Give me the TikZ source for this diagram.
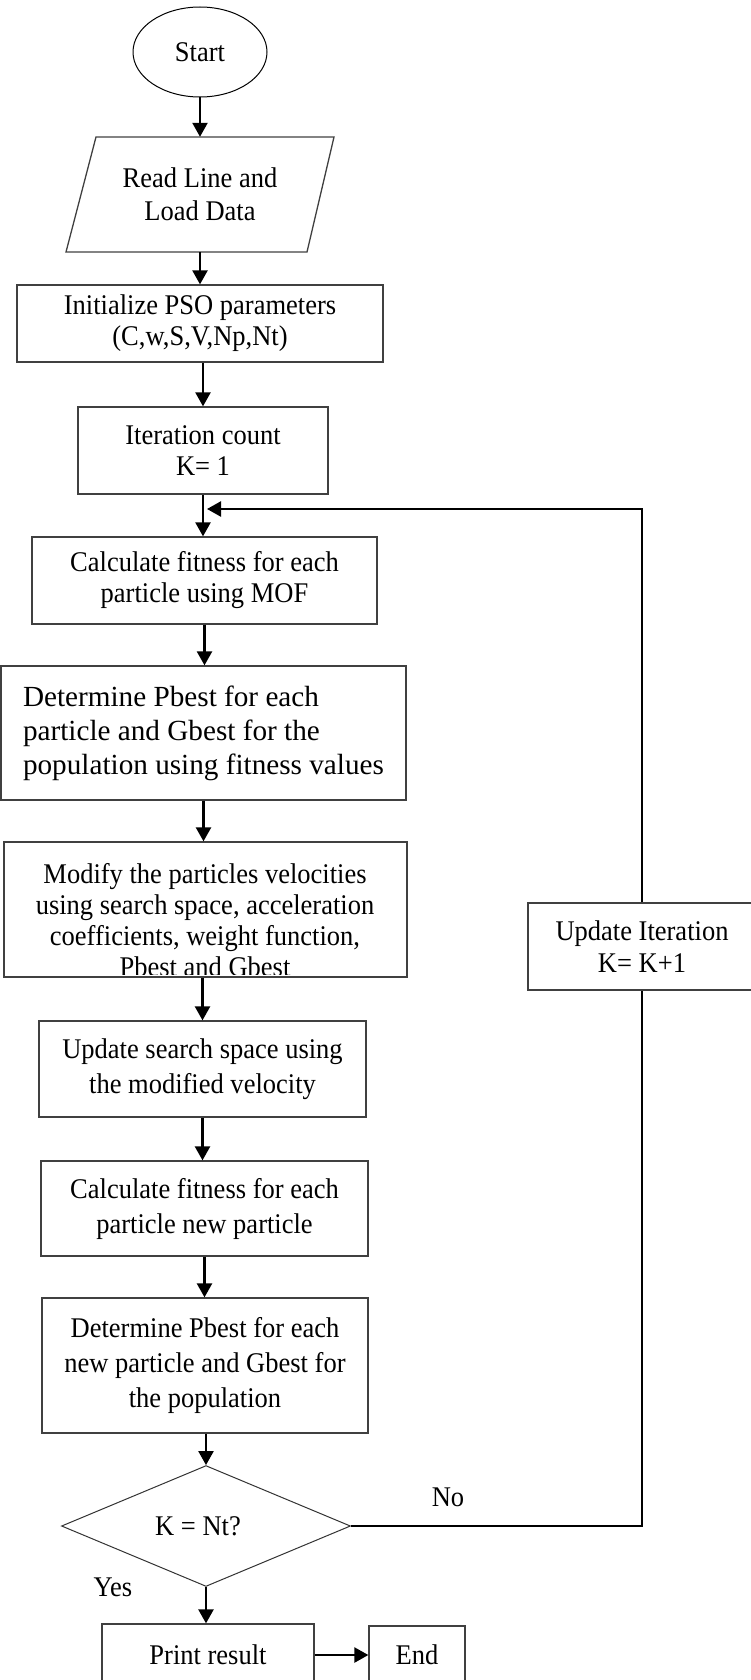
\documentclass[tikz,border=0pt]{standalone}
\usepackage{fontspec}
\setmainfont[FakeStretch=0.93]{Liberation Serif}
\newfontfamily\plainserif{Liberation Serif}
\usetikzlibrary{shapes.geometric,arrows.meta}

\begin{document}
\begin{tikzpicture}[x=1pt,y=-1pt,
  every node/.style={font=\fontsize{28.5}{31}\selectfont},
  boxline/.style={draw=black!75, line width=1.3pt},
  box/.style={boxline, fill=white, align=center, inner sep=0pt},
  wide/.style={font=\fontsize{28.5}{35}\selectfont},
  link/.style={line width=2.4pt, black},
  arr/.style={link, -{Triangle[width=15pt,length=14pt]}},
]
\useasboundingbox (0,0) rectangle (751,1680);

% terminals, input and process steps
\node[draw, line width=1pt, ellipse, minimum width=134pt, minimum height=90pt, inner sep=0pt] (start) at (200,52) {Start};

\draw[boxline] (96,137) -- (334,137) -- (307,252) -- (66,252) -- cycle;
\node[align=center, inner sep=0pt, minimum width=238pt, minimum height=115pt,
      font=\fontsize{28.5}{33}\selectfont] (read) at (200,194.5) {Read Line and\\Load Data};

\node[box, minimum width=366pt, minimum height=77pt] (init) at (200,323.5)
  {Initialize PSO parameters\\(C,w,S,V,Np,Nt)};
\node[box, minimum width=250pt, minimum height=87pt] (iter) at (203,450.5)
  {Iteration count\\K= 1};
\node[box, minimum width=345pt, minimum height=87pt] (calc1) at (204.5,580.5)
  {Calculate fitness for each\\particle using MOF};
\node[box, minimum width=405pt, minimum height=134pt, align=left,
      font=\plainserif\fontsize{29.2}{34}\selectfont] (det1) at (203.5,733)
  {Determine Pbest for each\\particle and Gbest for the\\population using fitness values};

\node[box, minimum width=403pt, minimum height=135pt] (modify) at (205.5,909.5) {};
\begin{scope}
  \clip (4,842) rectangle (407,974);
  \node[align=center, inner sep=0pt, font=\fontsize{28.5}{31}\selectfont] (modtext) at (205,919.75)
    {Modify the particles velocities\\using search space, acceleration\\coefficients, weight function,\\Pbest and Gbest};
\end{scope}

\node[box, minimum width=228pt, minimum height=87pt, font=\fontsize{28.5}{32}\selectfont] (upd) at (642,946.5)
  {Update Iteration\\K= K+1};
\node[box, wide, minimum width=327pt, minimum height=96pt] (upsp) at (202.5,1069)
  {Update search space using\\the modified velocity};
\node[box, wide, minimum width=327pt, minimum height=95pt] (calc2) at (204.5,1208.5)
  {Calculate fitness for each\\particle new particle};
\node[box, wide, minimum width=326pt, minimum height=135pt] (det2) at (205,1365.5)
  {Determine Pbest for each\\new particle and Gbest for\\the population};

\node[diamond, draw=black!80, line width=1pt, fill=white, minimum width=289pt, minimum height=108pt,
      inner sep=0pt] (dec) at (206,1526) {K = Nt?\hspace*{16pt}};

\node[box, minimum width=212pt, minimum height=62pt] (print) at (208,1655) {Print result};
\node[box, minimum width=96pt, minimum height=58pt] (end) at (417,1655) {End};

% branch labels
\node (no) at (448,1497) {No};
\node (yes) at (113,1587) {Yes};

% main flow
\draw[arr] (start.south) -- (read.north);
\draw[arr] (read.south) -- (init.north);
\draw[arr] (init.south -| iter.north) -- (iter.north);
\draw[arr] (iter.south) -- (iter.south |- calc1.north);
\draw[arr] (calc1.south) -- (calc1.south |- det1.north);
\draw[arr] (det1.south) -- (det1.south |- modify.north);
\draw[arr] (modify.south -| upsp.north) -- (upsp.north);
\draw[arr] (upsp.south) -- (upsp.south |- calc2.north);
\draw[arr] (calc2.south) -- (calc2.south |- det2.north);
\draw[arr] (det2.south -| dec.north) -- (dec.north);
\draw[arr] (dec.south) -- (dec.south |- print.north);
\draw[arr] (print.east) -- (end.west);

% iteration loop
\coordinate (loopin) at (207,509);
\draw[link] (dec.east) -| (upd.south);
\draw[arr] (upd.north) |- (loopin);
\end{tikzpicture}
\end{document}
